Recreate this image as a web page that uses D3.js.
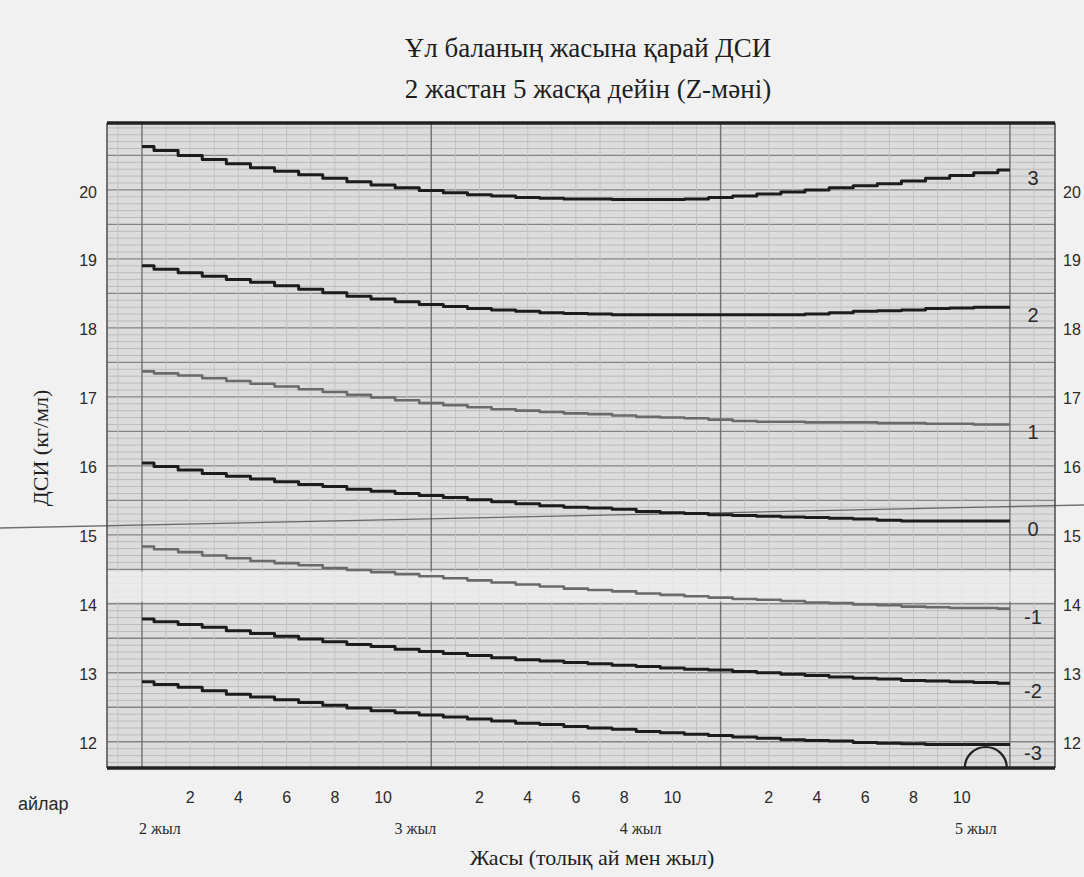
<!DOCTYPE html>
<html>
<head>
<meta charset="utf-8">
<script src="https://cdn.jsdelivr.net/npm/d3@7"></script>
<style>
  body { margin: 0; background: #f1f1f1; }
  svg { display: block; }
</style>
</head>
<body>
<svg id="chart" width="1084" height="877"></svg>
<script>
// Age in completed months (2 to 5 years)
const ageMonths = [24,25,26,27,28,29,30,31,32,33,34,35,36,37,38,39,40,41,42,
                   43,44,45,46,47,48,49,50,51,52,53,54,55,56,57,58,59,60];

// BMI (kg/m²) for boys, by z-score curve
const sdPlus3 = [20.63,20.57,20.50,20.44,20.38,20.32,20.27,20.22,20.17,20.12,20.07,20.03,19.99,19.96,19.93,19.91,19.89,19.88,19.87,
                 19.87,19.86,19.86,19.86,19.87,19.89,19.91,19.94,19.97,20.00,20.03,20.06,20.09,20.13,20.17,20.21,20.25,20.29];
const sdPlus2 = [18.90,18.85,18.80,18.75,18.70,18.66,18.61,18.56,18.51,18.46,18.42,18.38,18.34,18.31,18.28,18.26,18.24,18.22,18.21,
                 18.20,18.19,18.19,18.19,18.19,18.19,18.19,18.19,18.19,18.20,18.22,18.24,18.25,18.26,18.28,18.29,18.30,18.30];
const sdPlus1 = [17.37,17.34,17.31,17.27,17.23,17.19,17.15,17.11,17.07,17.03,16.99,16.95,16.91,16.88,16.85,16.82,16.80,16.78,16.76,
                 16.75,16.73,16.71,16.70,16.69,16.67,16.65,16.64,16.64,16.63,16.63,16.63,16.62,16.62,16.61,16.61,16.60,16.60];
const sdMedian = [16.04,15.99,15.94,15.89,15.85,15.81,15.77,15.73,15.70,15.66,15.63,15.60,15.57,15.54,15.51,15.48,15.45,15.42,15.40,
                  15.39,15.37,15.34,15.32,15.31,15.29,15.28,15.27,15.26,15.25,15.24,15.23,15.21,15.20,15.20,15.20,15.20,15.20];
const sdMinus1 = [14.83,14.79,14.75,14.70,14.66,14.62,14.59,14.56,14.52,14.49,14.46,14.43,14.40,14.37,14.34,14.31,14.28,14.25,14.22,
                  14.20,14.18,14.15,14.13,14.11,14.09,14.07,14.06,14.04,14.02,14.01,13.99,13.98,13.96,13.95,13.94,13.94,13.93];
const sdMinus2 = [13.78,13.74,13.70,13.66,13.61,13.57,13.53,13.49,13.45,13.41,13.38,13.34,13.31,13.28,13.25,13.22,13.19,13.17,13.15,
                  13.13,13.11,13.09,13.07,13.05,13.04,13.02,13.00,12.98,12.96,12.94,12.92,12.91,12.89,12.88,12.87,12.86,12.85];
const sdMinus3 = [12.87,12.83,12.79,12.74,12.69,12.65,12.61,12.57,12.53,12.49,12.45,12.42,12.39,12.36,12.33,12.30,12.27,12.25,12.22,
                  12.20,12.18,12.15,12.13,12.11,12.09,12.07,12.05,12.03,12.02,12.01,11.99,11.98,11.97,11.96,11.96,11.96,11.96];

const zLabels = ["3", "2", "1", "0", "-1", "-2", "-3"];
const bmiTicks = [12, 13, 14, 15, 16, 17, 18, 19, 20];
const monthTicks = [2, 4, 6, 8, 10];
const yearTicks = [2, 3, 4, 5];
const yearLabels = ["2 жыл", "3 жыл", "4 жыл", "5 жыл"];

const titleLines = ["Ұл баланың жасына қарай ДСИ", "2 жастан 5 жасқа дейін (Z-мәні)"];
const xTitle = "Жасы (толық ай мен жыл)";
const yTitle = "ДСИ (кг/мл)";
const monthsWord = "айлар";

const series = [
  { z: zLabels[0], values: sdPlus3, color: "#1c1c1c", width: 3 },
  { z: zLabels[1], values: sdPlus2, color: "#1c1c1c", width: 3 },
  { z: zLabels[2], values: sdPlus1, color: "#6a6a6a", width: 2.6 },
  { z: zLabels[3], values: sdMedian, color: "#1c1c1c", width: 3 },
  { z: zLabels[4], values: sdMinus1, color: "#6a6a6a", width: 2.6 },
  { z: zLabels[5], values: sdMinus2, color: "#1c1c1c", width: 3 },
  { z: zLabels[6], values: sdMinus3, color: "#1c1c1c", width: 3 }
];

const svg = d3.select("#chart");
const plot = { left: 107, right: 1055, top: 123, bottom: 768 };

const x = d3.scaleLinear().domain([22.55, 61.87]).range([plot.left, plot.right]);
const y = d3.scaleLinear().domain([11.62, 20.97]).range([plot.bottom, plot.top]);

const serif = "'Liberation Serif', 'Times New Roman', serif";
const sans = "'Liberation Sans', Arial, sans-serif";

// Title
svg.selectAll("text.title")
  .data(titleLines)
  .join("text")
  .attr("class", "title")
  .attr("x", 588)
  .attr("y", (d, i) => 57 + i * 41)
  .attr("text-anchor", "middle")
  .attr("font-family", serif)
  .attr("font-size", 27)
  .attr("fill", "#1e1e1e")
  .text(d => d);

// Plot background
svg.append("rect")
  .attr("x", plot.left).attr("y", plot.top)
  .attr("width", plot.right - plot.left).attr("height", plot.bottom - plot.top)
  .attr("fill", "#dcdcdc");

const grid = svg.append("g");

// Fine horizontal grid every 0.1, heavier every 0.5
const hLines = d3.range(117, 210).map(v => v / 10);
grid.selectAll("line.h")
  .data(hLines)
  .join("line")
  .attr("x1", plot.left).attr("x2", plot.right)
  .attr("y1", d => y(d)).attr("y2", d => y(d))
  .attr("stroke", d => (Math.round(d * 10) % 5 === 0) ? "#848484" : "#bcbcbc")
  .attr("stroke-width", d => (Math.round(d * 10) % 5 === 0) ? 1.4 : 1);

// Vertical grid every month, heavier at each year
const vLines = d3.range(23, 62);
grid.selectAll("line.v")
  .data(vLines)
  .join("line")
  .attr("y1", plot.top).attr("y2", plot.bottom)
  .attr("x1", d => x(d)).attr("x2", d => x(d))
  .attr("stroke", d => d % 12 === 0 ? "#727272" : "#c2c2c2")
  .attr("stroke-width", d => d % 12 === 0 ? 1.4 : 1);

// Faded strip across the lower part of the sheet
svg.append("rect")
  .attr("x", plot.left - 2).attr("y", y(14.47))
  .attr("width", plot.right - plot.left + 4).attr("height", y(14.03) - y(14.47))
  .attr("fill", "#f0f0f0").attr("opacity", 0.75);

// Frame
svg.append("line")
  .attr("x1", plot.left).attr("x2", plot.left)
  .attr("y1", plot.top).attr("y2", plot.bottom)
  .attr("stroke", "#555").attr("stroke-width", 1.6);
svg.append("line")
  .attr("x1", plot.right).attr("x2", plot.right)
  .attr("y1", plot.top).attr("y2", plot.bottom)
  .attr("stroke", "#555").attr("stroke-width", 1.6);
svg.append("line")
  .attr("x1", plot.left).attr("x2", plot.right)
  .attr("y1", plot.top).attr("y2", plot.top)
  .attr("stroke", "#222").attr("stroke-width", 3.5);
svg.append("line")
  .attr("x1", plot.left).attr("x2", plot.right)
  .attr("y1", plot.bottom).attr("y2", plot.bottom)
  .attr("stroke", "#222").attr("stroke-width", 3.5);

// Fold line across the sheet
svg.append("line")
  .attr("x1", 0).attr("y1", 528)
  .attr("x2", 1084).attr("y2", 505)
  .attr("stroke", "#444").attr("stroke-width", 1.3).attr("opacity", 0.75);

// Z-score curves
const line = d3.line()
  .x((d, i) => x(ageMonths[i]))
  .y(d => y(d))
  .curve(d3.curveStep);

svg.append("g").selectAll("path")
  .data(series)
  .join("path")
  .attr("d", d => line(d.values))
  .attr("fill", "none")
  .attr("stroke", d => d.color)
  .attr("stroke-width", d => d.width)
  .attr("stroke-linejoin", "round");

// Pen mark near the end of the lowest curve
const pen = d3.path();
pen.arc(x(59.0), y(11.62), 21, Math.PI, 2 * Math.PI);
svg.append("path")
  .attr("d", pen.toString())
  .attr("fill", "none").attr("stroke", "#222").attr("stroke-width", 2.2);

// Curve labels
svg.append("g").selectAll("text")
  .data(series)
  .join("text")
  .attr("x", 1033)
  .attr("y", d => y(d.values[d.values.length - 1]) + 8)
  .attr("dy", "0.35em")
  .attr("text-anchor", "middle")
  .attr("font-family", sans)
  .attr("font-size", 20)
  .attr("fill", "#2a2a2a")
  .text(d => d.z);

// BMI tick labels, both sides
svg.append("g").selectAll("text")
  .data(bmiTicks)
  .join("text")
  .attr("x", 97)
  .attr("y", d => y(d) + 2)
  .attr("dy", "0.35em")
  .attr("text-anchor", "end")
  .attr("font-family", sans)
  .attr("font-size", 16)
  .attr("fill", "#2a2a2a")
  .text(d => d);
svg.append("g").selectAll("text")
  .data(bmiTicks)
  .join("text")
  .attr("x", 1063)
  .attr("y", d => y(d) + 2)
  .attr("dy", "0.35em")
  .attr("text-anchor", "start")
  .attr("font-family", sans)
  .attr("font-size", 16)
  .attr("fill", "#2a2a2a")
  .text(d => d);

// Month tick labels within each year
const monthLabelData = [];
[24, 36, 48].forEach(start => monthTicks.forEach(m => monthLabelData.push({ age: start + m, label: m })));
svg.append("g").selectAll("text")
  .data(monthLabelData)
  .join("text")
  .attr("x", d => x(d.age))
  .attr("y", 803)
  .attr("text-anchor", "middle")
  .attr("font-family", sans)
  .attr("font-size", 16)
  .attr("fill", "#2a2a2a")
  .text(d => d.label);

svg.append("text")
  .attr("x", 18).attr("y", 810)
  .attr("font-family", sans).attr("font-size", 18)
  .attr("fill", "#2a2a2a")
  .text(monthsWord);

// Year labels
const yearOffsets = [18, -16, -80, -34];
svg.append("g").selectAll("text")
  .data(yearTicks)
  .join("text")
  .attr("x", (d, i) => x(d * 12) + yearOffsets[i])
  .attr("y", 834)
  .attr("text-anchor", "middle")
  .attr("font-family", serif)
  .attr("font-size", 16)
  .attr("fill", "#2a2a2a")
  .text((d, i) => yearLabels[i]);

// Axis titles
svg.append("text")
  .attr("x", 592).attr("y", 865)
  .attr("text-anchor", "middle")
  .attr("font-family", serif).attr("font-size", 22)
  .attr("fill", "#1e1e1e")
  .text(xTitle);

svg.append("text")
  .attr("transform", "translate(48,448) rotate(-90)")
  .attr("text-anchor", "middle")
  .attr("font-family", serif).attr("font-size", 22)
  .attr("fill", "#1e1e1e")
  .text(yTitle);
</script>
</body>
</html>
